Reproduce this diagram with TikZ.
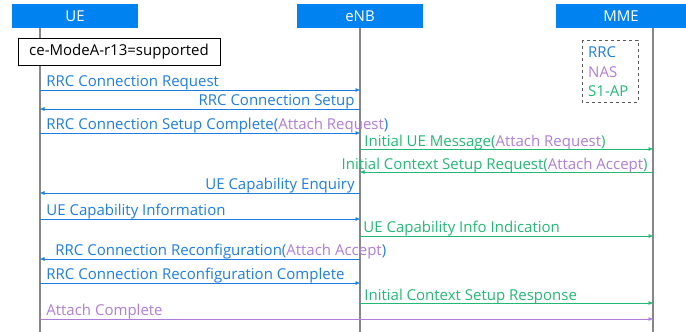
\documentclass[tikz,border=0pt]{standalone}
\usepackage{fontspec}
\setmainfont{Open Sans}
\usetikzlibrary{arrows.meta}
\definecolor{hdrblue}{RGB}{0,130,240}
\definecolor{rrcblue}{RGB}{30,125,225}
\definecolor{naspurple}{RGB}{175,125,215}
\definecolor{sapgreen}{RGB}{35,185,115}
\definecolor{lifegray}{RGB}{135,135,135}

\begin{document}
\begin{tikzpicture}[x=1pt, y=-1pt,
		hdr/.style={fill=hdrblue, text=white, minimum height=24pt, inner sep=0pt, font=\fontsize{15}{17}\selectfont},
		lbl/.style={inner sep=0pt, font=\fontsize{15}{17}\selectfont},
		msg/.style={line width=.8pt, -{Triangle[length=4.5pt, width=3.5pt]}},
		life/.style={draw=lifegray, line width=1.2pt}]
				\useasboundingbox (0,0) rectangle (686,332);
				\node[hdr, minimum width=126pt] (UE) at (75,16) {UE};
				\node[hdr, minimum width=126pt] (eNB) at (360,16) {eNB};
				\node[hdr, minimum width=130pt] (MME) at (621,16) {MME};
				\foreach \l/\x in {ue/40, enb/360, mme/653} {
					\coordinate (\l top) at (\x,28);
					\coordinate (\l bot) at (\x,332);
					\draw[life] (\l top) -- (\l bot);
				}
				\node[lbl, draw=black, line width=.6pt, fill=white, minimum width=202pt, minimum height=27pt] (cemode) at (119,51.5) {ce-ModeA-r13=supported};
				\draw[dashed, draw=black!65, line width=.7pt] (582,40) rectangle (638,102);
				\node[lbl, anchor=base west, text=rrcblue] (lgrrc) at (588,57) {RRC};
				\node[lbl, anchor=base west, text=naspurple] (lgnas) at (588,77) {NAS};
				\node[lbl, anchor=base west, text=sapgreen] (lgsap) at (588,96) {S1-AP};
				\foreach \n/\y in {1/90, 2/109, 3/133, 4/149, 5/172, 6/193, 7/219, 8/236, 9/259, 10/283, 11/303, 12/319} {
					\coordinate (u\n) at (40,\y);
					\coordinate (e\n) at (360,\y);
					\coordinate (m\n) at (653,\y);
				}
				\draw[msg, rrcblue] (u1) -- (e1) node[lbl, pos=0, anchor=base west, xshift=6pt, yshift=4pt] {RRC Connection Request};
				\draw[msg, rrcblue] (e2) -- (u2) node[lbl, pos=0, anchor=base east, xshift=-5pt, yshift=4pt] {RRC Connection Setup};
				\draw[msg, rrcblue] (u3) -- (e3) node[lbl, pos=0, anchor=base west, xshift=6pt, yshift=4pt] {RRC Connection Setup Complete(\textcolor{naspurple}{Attach Request})};
				\draw[msg, sapgreen] (e4) -- (m4) node[lbl, pos=0, anchor=base west, xshift=4pt, yshift=3pt] {Initial UE Message(\textcolor{naspurple}{Attach Request})};
				\draw[msg, sapgreen] (m5) -- (e5) node[lbl, pos=0, anchor=base east, xshift=-5pt, yshift=3pt] {Initial Context Setup Request(\textcolor{naspurple}{Attach Accept})};
				\draw[msg, rrcblue] (e6) -- (u6) node[lbl, pos=0, anchor=base east, xshift=-5pt, yshift=4pt] {UE Capability Enquiry};
				\draw[msg, rrcblue] (u7) -- (e7) node[lbl, pos=0, anchor=base west, xshift=6pt, yshift=4pt] {UE Capability Information};
				\draw[msg, sapgreen] (e8) -- (m8) node[lbl, pos=0, anchor=base west, xshift=3pt, yshift=4pt] {UE Capability Info Indication};
				\draw[msg, rrcblue] (e9) -- (u9) node[lbl, pos=1, anchor=base west, xshift=15pt, yshift=4pt] {RRC Connection Reconfiguration(\textcolor{naspurple}{Attach Accept})};
				\draw[msg, rrcblue] (u10) -- (e10) node[lbl, pos=0, anchor=base west, xshift=6pt, yshift=4pt] {RRC Connection Reconfiguration Complete};
				\draw[msg, sapgreen] (e11) -- (m11) node[lbl, pos=0, anchor=base west, xshift=4pt, yshift=3pt] {Initial Context Setup Response};
				\draw[msg, naspurple] (u12) -- (m12) node[lbl, pos=0, anchor=base west, xshift=6pt, yshift=4pt] {Attach Complete};
			\end{tikzpicture}
\end{document}
